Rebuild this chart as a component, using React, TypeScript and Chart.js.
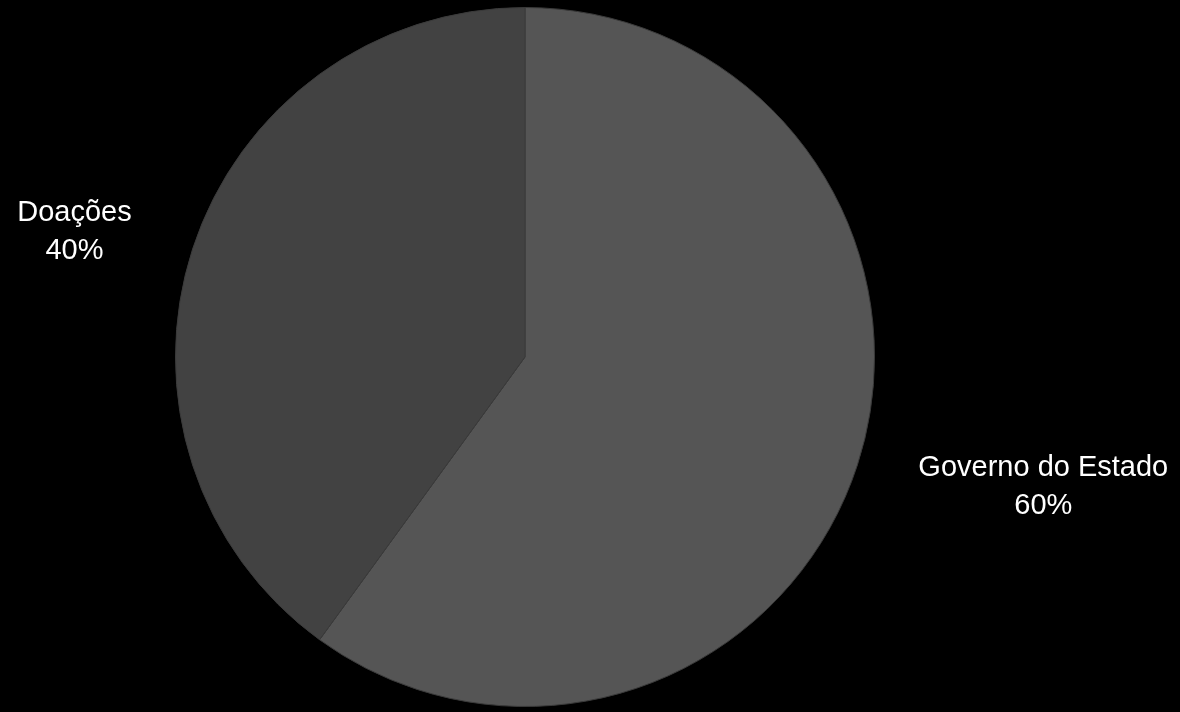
import React, { useEffect, useRef } from "react";
import { Chart, registerables } from "chart.js";

Chart.register(...registerables);

const categories = ["Governo do Estado", "Doações"];
const values = [60, 40];
const percentLabels = ["60%", "40%"];
const colors = ["#555555", "#424242"];

const labelPlugin = {
  id: "outerLabels",
  afterDraw(chart: any) {
    const ctx = chart.ctx;
    const meta = chart.getDatasetMeta(0);
    ctx.save();
    ctx.font = "29px 'Liberation Sans', Arial, sans-serif";
    ctx.fillStyle = "#ffffff";
    ctx.textAlign = "center";
    ctx.textBaseline = "middle";
    meta.data.forEach((arc: any, i: number) => {
      const p = arc.getProps(["x", "y", "startAngle", "endAngle", "outerRadius"], true);
      const mid = (p.startAngle + p.endAngle) / 2;
      const d = p.outerRadius + 62;
      const ax = p.x + Math.cos(mid) * d;
      const ay = p.y + Math.sin(mid) * d + (ax < p.x ? 2 : 3);
      const l1 = categories[i];
      const l2 = percentLabels[i];
      const w = Math.max(ctx.measureText(l1).width, ctx.measureText(l2).width);
      const cx = ax < p.x ? ax - 2 - w / 2 : ax + 2 + w / 2;
      ctx.fillText(l1, cx, ay - 19);
      ctx.fillText(l2, cx, ay + 19);
    });
    ctx.restore();
  },
};

export default function App() {
  const ref = useRef<HTMLCanvasElement>(null);
  useEffect(() => {
    document.body.style.margin = "0";
    document.body.style.background = "#000";
    const chart = new Chart(ref.current!, {
      type: "pie",
      data: {
        labels: categories,
        datasets: [
          {
            data: values,
            backgroundColor: colors,
            borderColor: "#3a3a3a",
            borderWidth: 1,
          },
        ],
      },
      options: {
        responsive: false,
        animation: false,
        layout: { padding: { left: 175, right: 305, top: 7, bottom: 5 } },
        plugins: { legend: { display: false }, tooltip: { enabled: false } },
      },
      plugins: [labelPlugin],
    });
    return () => chart.destroy();
  }, []);
  return (
    <div style={{ width: 1180, height: 712, background: "#000", position: "absolute", left: 0, top: 0 }}>
      <canvas ref={ref} width={1180} height={712} style={{ display: "block" }} />
    </div>
  );
}
